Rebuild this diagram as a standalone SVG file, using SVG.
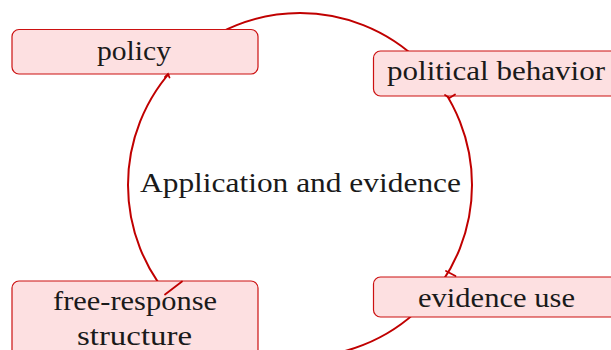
<svg xmlns="http://www.w3.org/2000/svg" width="611" height="350" viewBox="0 0 611 350">
<style>
.node rect{fill:#fde0e1;stroke:#cc1111;stroke-width:1.2}
text{font-family:'Liberation Serif','Times New Roman',serif;font-size:27px;fill:#1a1a1a;text-anchor:middle}
.conn{fill:none;stroke:#c00000;stroke-width:2}
.tip{fill:none;stroke:#c00000;stroke-width:1.8;stroke-linecap:round}
</style>
<rect width="611" height="350" fill="#ffffff"/>
<g id="connectors">
<circle class="conn" cx="300" cy="185" r="172"/>
</g>
<g id="center">
<text x="300.5" y="192" textLength="321" lengthAdjust="spacingAndGlyphs">Application and evidence</text>
</g>
<g id="policy" class="node">
<rect x="12" y="29.5" width="246" height="44.5" rx="7"/>
<text x="134" y="60" textLength="74" lengthAdjust="spacingAndGlyphs">policy</text>
</g>
<g id="political-behavior" class="node">
<rect x="373.5" y="51" width="245" height="45" rx="7"/>
<text x="496" y="79.5" textLength="218" lengthAdjust="spacingAndGlyphs">political behavior</text>
</g>
<g id="free-response" class="node">
<rect x="12" y="281" width="246" height="90" rx="7"/>
<text x="135" y="310" textLength="164" lengthAdjust="spacingAndGlyphs">free-response</text>
<text x="134.5" y="345" textLength="115" lengthAdjust="spacingAndGlyphs">structure</text>
</g>
<g id="evidence-use" class="node">
<rect x="373.5" y="277" width="245" height="40" rx="7"/>
<text x="496.5" y="306.5" textLength="157" lengthAdjust="spacingAndGlyphs">evidence use</text>
</g>
<g id="tips">
<path class="tip" d="M165 77 L168 74 L169.5 77.5"/>
<path class="tip" d="M445 95 L449.5 98 L455 94.5"/>
<path class="tip" d="M446 271 L455.5 276"/>
<path class="tip" d="M182 281.5 L165 294.5"/>
</g>
</svg>
